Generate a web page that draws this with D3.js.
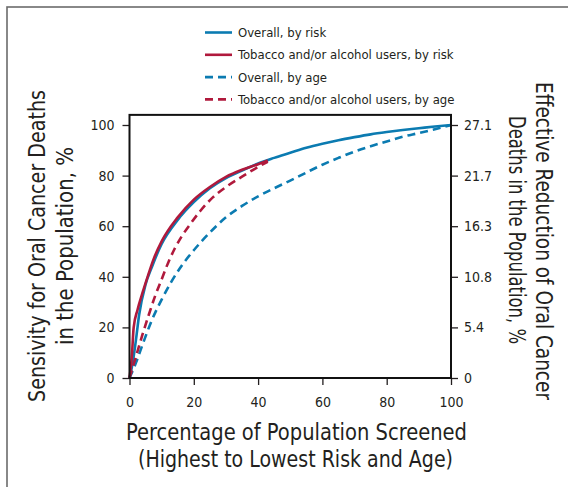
<!DOCTYPE html>
<html><head><meta charset="utf-8">
<script src="https://cdn.jsdelivr.net/npm/d3@7"></script>
<style>
body{margin:0;background:#fff}
svg{display:block}
text{font-family:"Liberation Sans Narrow","Arial Narrow","DejaVu Sans Condensed",sans-serif;fill:#231f20}
</style>
</head><body>
<svg id="c" width="568" height="487"></svg>
<script>
// ---- data ----
const seriesNames = ["Overall, by risk","Tobacco and/or alcohol users, by risk","Overall, by age","Tobacco and/or alcohol users, by age"];
const overallRisk = [[0,0],[1,6],[2,15],[3,25],[5,37],[7,44],[10,53],[15,62.5],[20,69.5],[25,75],[30,79],[35,82],[40,84.8],[45,87],[50,89],[55,91],[60,92.6],[65,94],[70,95.2],[75,96.3],[80,97.2],[85,98],[90,98.7],[95,99.4],[100,100]];
const tobaccoRisk = [[0,0],[0.7,8],[1.3,20],[2.5,27],[4,33.5],[5.5,39.5],[7.5,47],[10,54],[15,63.5],[20,70.5],[25,75.5],[30,79.5],[35,82.3],[40,84.5],[43,86]];
const overallAge = [[0,0],[2,6],[4,13],[7,23],[10,31],[13,38],[16,44],[20,50.5],[25,57.5],[30,63.5],[35,68],[40,71.8],[45,75],[50,78],[55,81.2],[60,84.3],[65,87],[70,89.5],[75,91.6],[80,93.5],[85,95.4],[90,96.8],[95,98.3],[100,100]];
const tobaccoAge = [[0,0],[2,8.5],[4,17],[6,25],[8,32.5],[10,39],[12,45.5],[14,51],[16,55.5],[19,61],[22,66],[26,71.5],[30,75.5],[35,79.6],[39,82.7],[43,85.5]];
const xTicks = [0,20,40,60,80,100];
const leftTicks = [0,20,40,60,80,100];
const rightMax = 27.1;
const rightTicks = [0,5.42,10.84,16.26,21.68,27.1];
const rightTickLabels = ["0","5.4","10.8","16.3","21.7","27.1"];

// ---- styles ----
const BLUE = "#0b7bb1", RED = "#b0193c";
const styles = [
  {color:BLUE, dash:null},
  {color:RED, dash:null},
  {color:BLUE, dash:"8,5"},
  {color:RED, dash:"8,5"}
];
const seriesData = [overallRisk, tobaccoRisk, overallAge, tobaccoAge];
const FONT = '"Liberation Sans Narrow","Arial Narrow","DejaVu Sans Condensed",sans-serif';

const svg = d3.select("#c");
// outer frame
svg.append("rect").attr("x",7).attr("y",7).attr("width",700).attr("height",700)
  .attr("fill","none").attr("stroke","#6b6b6b").attr("stroke-width",1.6);

const x = d3.scaleLinear().domain([0,100]).range([129.5,451]);
const y = d3.scaleLinear().domain([0,100]).range([378,125]);
const yR = d3.scaleLinear().domain([0,rightMax]).range([378,125]);

// axes
const axL = svg.append("g").attr("transform",`translate(${x(0)},0)`)
  .call(d3.axisLeft(y).tickValues(leftTicks).tickSize(7).tickPadding(8));
const axR = svg.append("g").attr("transform",`translate(${x(100)},0)`)
  .call(d3.axisRight(yR).tickValues(rightTicks).tickFormat((d,i)=>rightTickLabels[i]).tickSize(7).tickPadding(6));
const axB = svg.append("g").attr("transform",`translate(0,${y(0)})`)
  .call(d3.axisBottom(x).tickValues(xTicks).tickSize(7).tickPadding(12));
[axL,axR,axB].forEach(g=>{
  g.select(".domain").remove();
  g.selectAll(".tick line").attr("stroke","#231f20").attr("stroke-width",1.3);
  g.selectAll(".tick text").attr("font-size",14).style("font-family",FONT).attr("fill","#231f20");
});

// lines
const line = d3.line().x(d=>x(d[0])).y(d=>y(d[1])).curve(d3.curveMonotoneX);
seriesData.forEach((s,i)=>{
  svg.append("path").datum(s).attr("d",line).attr("fill","none")
    .attr("stroke",styles[i].color).attr("stroke-width",2.6)
    .attr("stroke-dasharray",styles[i].dash)
    .attr("stroke-linejoin","round");
});

// plot box
const boxTop = y(104);
svg.append("rect").attr("x",x(0)).attr("y",boxTop).attr("width",x(100)-x(0)).attr("height",y(0)-boxTop)
  .attr("fill","none").attr("stroke","#111").attr("stroke-width",2);

// legend
const lg = svg.append("g");
seriesNames.forEach((n,i)=>{
  const yy = 32.5 + i*22.3;
  lg.append("line").attr("x1",205).attr("x2",232).attr("y1",yy).attr("y2",yy)
    .attr("stroke",styles[i].color).attr("stroke-width",2.6).attr("stroke-dasharray",styles[i].dash);
  lg.append("text").attr("x",238).attr("y",yy+4.6).attr("font-size",13).text(n);
});

// axis titles
const T = 23;
function title(tr, txt, len){
  svg.append("text").attr("transform",tr).attr("text-anchor","middle").attr("font-size",T)
    .attr("textLength",len).attr("lengthAdjust","spacingAndGlyphs").text(txt);
}
title("translate(296.5,440)","Percentage of Population Screened",341);
title("translate(295.5,467)","(Highest to Lowest Risk and Age)",315);
title("translate(45,246) rotate(-90)","Sensivity for Oral Cancer Deaths",312);
title("translate(73,246) rotate(-90)","in the Population, %",198);
title("translate(536,241) rotate(90)","Effective Reduction of Oral Cancer",318);
title("translate(509,230) rotate(90)","Deaths in the Population, %",228);
</script>
</body></html>
